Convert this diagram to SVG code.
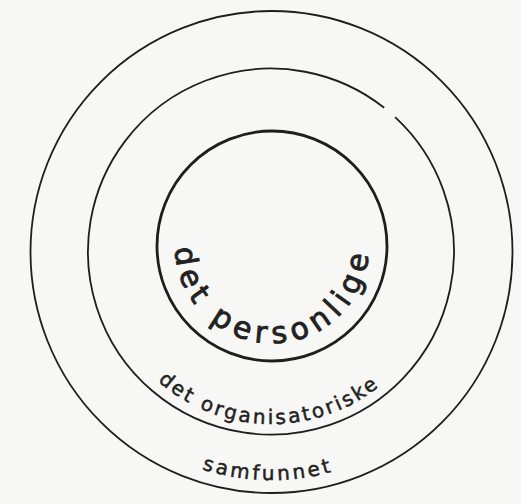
<svg xmlns="http://www.w3.org/2000/svg" width="521" height="504" viewBox="0 0 521 504">
<style>
.ring{fill:none;stroke:#1e1e1e;stroke-width:1.8}
.ring-inner{fill:none;stroke:#1e1e1e;stroke-width:2.8}
.lbl{font-family:"DejaVu Sans",sans-serif;fill:#222;stroke:#222;text-anchor:middle}
</style>
<defs>
<path id="pInner" d="M176.5 229.2 A97 97 0 1 0 367.5 229.2"/>
<path id="pMid" d="M122.5 338 A172 172 0 0 0 420.5 338"/>
<path id="pOuter" d="M74 366 A228 228 0 0 0 469 366"/>
</defs>
<rect width="521" height="504" fill="#f7f7f5"/>
<g id="samfunnet">
<circle class="ring" cx="271.5" cy="252" r="241"/>
<text class="lbl" font-size="20" letter-spacing="3" stroke-width="0.5"><textPath href="#pOuter" startOffset="235">samfunnet</textPath></text>
</g>
<g id="det-organisatoriske">
<path class="ring" d="M395.1 117.1 A183 183 0 1 1 384.2 107.8"/>
<text class="lbl" font-size="20" letter-spacing="2.6" stroke-width="0.5"><textPath href="#pMid" startOffset="177">det organisatoriske</textPath></text>
</g>
<g id="det-personlige">
<circle class="ring-inner" cx="272" cy="246" r="115"/>
<text class="lbl" font-size="30" letter-spacing="6" stroke-width="0.9"><textPath href="#pInner" startOffset="169">det personlige</textPath></text>
</g>
<g id="connectors"/>
</svg>
